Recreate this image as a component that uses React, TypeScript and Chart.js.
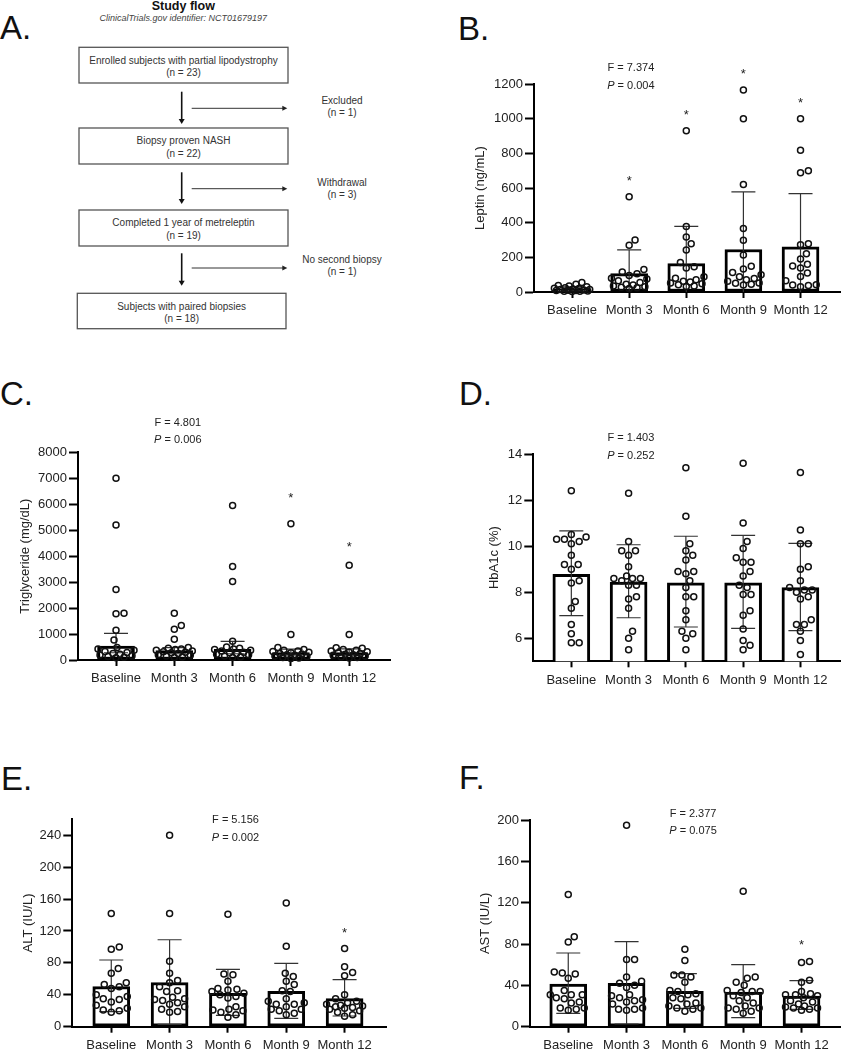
import React, { useEffect, useRef } from "react";
import { Chart, registerables } from "chart.js";
Chart.register(...registerables);

const FONT = "'Liberation Sans', Arial, Helvetica, sans-serif";

const categories = ["Baseline", "Month 3", "Month 6", "Month 9", "Month 12"];

// ---------- B. Leptin ----------
const leptinMean = [17, 106, 164, 245, 260];
const leptinLow = [5, -31, -51, -88, -48];
const leptinHigh = [30, 243, 379, 578, 568];
const leptinStar = [null, 655, 1040, 1275, 1107];
const leptinBaseline = [55, 45, 38, 35, 30, 25, 22, 20, 18, 15, 14, 12, 10, 8, 8, 6, 5, 4, 3];
const leptinM3 = [550, 300, 270, 130, 115, 105, 95, 80, 75, 65, 55, 45, 40, 35, 30, 28, 25, 20];
const leptinM6 = [930, 378, 318, 278, 243, 170, 145, 138, 88, 80, 70, 62, 58, 52, 48, 42, 35, 32];
const leptinM9 = [1165, 1000, 620, 366, 298, 214, 148, 133, 112, 100, 88, 78, 70, 62, 52, 50, 45, 40];
const leptinM12 = [1000, 818, 699, 688, 278, 272, 221, 191, 160, 150, 139, 110, 90, 65, 42, 40, 38, 30];
const leptinTicks = [0, 200, 400, 600, 800, 1000, 1200];

// ---------- C. Triglyceride ----------
const tgMean = [540, 360, 410, 282, 282];
const tgLow = [280, 240, 240, 200, 190];
const tgHigh = [1027, 480, 720, 420, 430];
const tgStar = [null, null, null, 6356, 4481];
const tgBaseline = [7000, 5200, 2720, 1800, 1780, 1150, 770, 480, 420, 380, 330, 290, 250, 220, 190, 160, 130, 110, 90];
const tgM3 = [1800, 1330, 1180, 800, 480, 450, 420, 400, 380, 350, 320, 300, 280, 250, 200, 180, 150, 120, 100];
const tgM6 = [5950, 3600, 3020, 720, 500, 450, 420, 400, 380, 350, 300, 280, 250, 220, 200, 150, 120, 100];
const tgM9 = [5250, 980, 480, 400, 380, 350, 330, 300, 280, 250, 230, 200, 180, 150, 130, 100, 80, 60];
const tgM12 = [3650, 980, 470, 450, 400, 380, 350, 320, 300, 280, 250, 220, 200, 180, 150, 120, 100, 80];
const tgTicks = [0, 1000, 2000, 3000, 4000, 5000, 6000, 7000, 8000];

// ---------- D. HbA1c ----------
const a1cMean = [8.78, 8.44, 8.41, 8.41, 8.2];
const a1cLow = [6.98, 6.89, 6.49, 6.43, 6.33];
const a1cHigh = [10.66, 10.06, 10.43, 10.47, 10.12];
const a1cStar = [null, null, null, null, null];
const a1cBaseline = [12.4, 10.5, 10.4, 10.3, 10.3, 10.2, 10.1, 9.6, 9.2, 9.2, 9.0, 8.5, 8.4, 7.6, 7.3, 6.6, 6.2, 5.8, 5.8];
const a1cM3 = [12.3, 10.2, 9.8, 9.8, 9.6, 9.1, 8.7, 8.6, 8.6, 8.6, 8.5, 8.3, 8.3, 7.8, 7.7, 7.3, 6.3, 6.0, 5.5];
const a1cM6 = [13.4, 11.3, 10.1, 9.8, 9.6, 9.4, 8.9, 8.9, 8.8, 8.5, 8.2, 7.8, 7.8, 7.2, 6.8, 6.3, 6.2, 6.0, 5.5];
const a1cM9 = [13.6, 11.0, 10.2, 9.9, 9.5, 9.3, 9.3, 8.9, 8.7, 8.3, 8.2, 7.9, 7.9, 7.2, 7.0, 6.4, 5.9, 5.7, 5.5];
const a1cM12 = [13.2, 10.7, 10.1, 10.1, 9.1, 9.0, 8.5, 8.2, 8.1, 8.1, 8.0, 7.8, 7.7, 6.8, 6.6, 6.6, 6.3, 5.9, 5.3];
const a1cTicks = [6, 8, 10, 12, 14];

// ---------- E. ALT ----------
const altMean = [50.2, 55.2, 41.8, 44.3, 35.1];
const altLow = [18.8, 2.9, 14.2, 10.5, 13.4];
const altHigh = [83.6, 109, 71.9, 79.4, 58.9];
const altStar = [null, null, null, null, 121];
const altBaseline = [142, 100, 97, 73, 67, 55, 53, 50, 48, 40, 38, 35, 34, 31, 27, 23, 21, 20, 18];
const altM3 = [240, 142, 82, 67, 58, 55, 50, 45, 44, 37, 35, 34, 33, 30, 28, 25, 22, 19, 18];
const altM6 = [141, 66, 65, 57, 48, 47, 46, 44, 42, 40, 38, 36, 25, 22, 21, 20, 18, 15, 12];
const altM9 = [155, 101, 67, 63, 57, 53, 45, 44, 35, 32, 30, 28, 28, 25, 22, 22, 20, 17, 15];
const altM12 = [98, 75, 68, 64, 40, 35, 32, 30, 28, 27, 26, 25, 24, 23, 22, 20, 18, 15, 13];
const altTicks = [0, 40, 80, 120, 160, 200, 240];

// ---------- F. AST ----------
const astMean = [41.3, 41.9, 34.2, 33.5, 29.7];
const astLow = [12.9, 2.6, 17.7, 8.7, 16.8];
const astHigh = [71.3, 82.3, 51.3, 60.0, 44.5];
const astStar = [null, null, null, null, 82];
const astBaseline = [128, 87, 82, 53, 52, 51, 47, 35, 31, 31, 31, 28, 27, 24, 23, 18, 18, 17, 16];
const astM3 = [195, 65, 65, 48, 44, 42, 40, 38, 31, 30, 28, 26, 25, 24, 22, 18, 17, 17, 16];
const astM6 = [75, 64, 50, 50, 48, 43, 35, 34, 32, 31, 28, 27, 23, 22, 20, 18, 18, 17, 15];
const astM9 = [131, 48, 47, 43, 40, 35, 34, 34, 33, 30, 28, 25, 23, 20, 18, 18, 17, 15, 13];
const astM12 = [63, 62, 45, 43, 34, 32, 31, 31, 30, 28, 25, 24, 22, 20, 19, 18, 18, 17, 16];
const astTicks = [0, 40, 80, 120, 160, 200];

type Spec = {
  id: string;
  box: { x: number; y: number; w: number; h: number };
  area: { l: number; t: number; r: number; b: number };
  titleX: number;
  yTitle: string;
  yMin: number;
  yMax: number;
  yTicks: number[];
  xMin: number;
  xMax: number;
  means: number[];
  low: number[];
  high: number[];
  groups: number[][];
  stars: (number | null)[];
  stat: { f: string; p: string; x: number; yF: number; yP: number };
};

const specs: Spec[] = [
  {
    id: "B",
    box: { x: 440, y: 50, w: 406, h: 280 },
    area: { l: 534, t: 84, r: 846, b: 292 },
    titleX: 480.5,
    yTitle: "Leptin (ng/mL)",
    yMin: 0, yMax: 1200, yTicks: leptinTicks,
    xMin: -0.666, xMax: 4.7,
    means: leptinMean, low: leptinLow, high: leptinHigh,
    groups: [leptinBaseline, leptinM3, leptinM6, leptinM9, leptinM12],
    stars: leptinStar,
    stat: { f: "F = 7.374", p: "0.004", x: 1.03, yF: 1296, yP: 1194 },
  },
  {
    id: "C",
    box: { x: 10, y: 410, w: 390, h: 290 },
    area: { l: 78, t: 452.3, r: 390, b: 660 },
    titleX: 25.7,
    yTitle: "Triglyceride (mg/dL)",
    yMin: 0, yMax: 8000, yTicks: tgTicks,
    xMin: -0.652, xMax: 4.7,
    means: tgMean, low: tgLow, high: tgHigh,
    groups: [tgBaseline, tgM3, tgM6, tgM9, tgM12],
    stars: tgStar,
    stat: { f: "F = 4.801", p: "0.006", x: 1.06, yF: 9156, yP: 8501 },
  },
  {
    id: "D",
    box: { x: 440, y: 410, w: 406, h: 290 },
    area: { l: 533.3, t: 454, r: 846, b: 661.3 },
    titleX: 494.7,
    yTitle: "HbA1c (%)",
    yMin: 5, yMax: 14, yTicks: a1cTicks,
    xMin: -0.664, xMax: 4.7,
    means: a1cMean, low: a1cLow, high: a1cHigh,
    groups: [a1cBaseline, a1cM3, a1cM6, a1cM9, a1cM12],
    stars: a1cStar,
    stat: { f: "F = 1.403", p: "0.252", x: 1.04, yF: 14.75, yP: 13.97 },
  },
  {
    id: "E",
    box: { x: 5, y: 795, w: 395, h: 255 },
    area: { l: 72.3, t: 819.3, r: 386, b: 1026.7 },
    titleX: 28,
    yTitle: "ALT (IU/L)",
    yMin: 0, yMax: 260, yTicks: altTicks,
    xMin: -0.668, xMax: 4.71,
    means: altMean, low: altLow, high: altHigh,
    groups: [altBaseline, altM3, altM6, altM9, altM12],
    stars: altStar,
    stat: { f: "F = 5.156", p: "0.002", x: 2.13, yF: 260, yP: 238 },
  },
  {
    id: "F",
    box: { x: 440, y: 795, w: 406, h: 255 },
    area: { l: 530, t: 820, r: 840, b: 1026.7 },
    titleX: 485,
    yTitle: "AST (IU/L)",
    yMin: 0, yMax: 200, yTicks: astTicks,
    xMin: -0.656, xMax: 4.66,
    means: astMean, low: astLow, high: astHigh,
    groups: [astBaseline, astM3, astM6, astM9, astM12],
    stars: astStar,
    stat: { f: "F = 2.377", p: "0.075", x: 2.14, yF: 207, yP: 190 },
  },
];

function swarm(chart: any, groups: number[][]) {
  const xs = chart.scales.x;
  const ys = chart.scales.y;
  const pxPerCat = xs.getPixelForValue(1) - xs.getPixelForValue(0);
  const D = 7.8;
  const maxSpread = 18;
  const cands: number[] = [0];
  for (let k = 1; k <= maxSpread; k++) cands.push(k, -k);
  const out: { x: number; y: number }[] = [];
  groups.forEach((vals, gi) => {
    const placed: { x: number; y: number }[] = [];
    const order = vals.map((_, i) => i).sort((a, b) => vals[a] - vals[b]);
    for (const i of order) {
      const py = ys.getPixelForValue(vals[i]);
      let best = 0;
      let bestScore = -1;
      for (const c of cands) {
        let minD = Infinity;
        for (const p of placed) {
          const d = Math.hypot(p.x - c, p.y - py);
          if (d < minD) minD = d;
        }
        if (minD >= D) {
          best = c;
          bestScore = Infinity;
          break;
        }
        if (minD > bestScore + 0.01) {
          bestScore = minD;
          best = c;
        }
      }
      placed.push({ x: best, y: py });
      out.push({ x: gi + best / pxPerCat, y: vals[i] });
    }
  });
  return out;
}

function BarPanel({ spec }: { spec: Spec }) {
  const ref = useRef<HTMLCanvasElement>(null);
  useEffect(() => {
    const canvas = ref.current!;
    const { box, area } = spec;
    const titleSize = 13;
    const titlePad = spec.titleX - box.x - (titleSize * 1.2) / 2;
    const extras = {
      id: "extras" + spec.id,
      afterDatasetDraw(c: any, args: any) {
        if (args.index !== 0) return;
        const { ctx, chartArea: ca } = c;
        const xs = c.scales.x;
        const ys = c.scales.y;
        ctx.save();
        ctx.beginPath();
        ctx.rect(ca.left, ca.top, ca.right - ca.left, ca.bottom - ca.top);
        ctx.clip();
        ctx.strokeStyle = "#333";
        ctx.lineWidth = 1.2;
        spec.means.forEach((_, i) => {
          const xp = xs.getPixelForValue(i);
          const yh = ys.getPixelForValue(spec.high[i]);
          const yl = ys.getPixelForValue(spec.low[i]);
          ctx.beginPath();
          ctx.moveTo(xp, yl);
          ctx.lineTo(xp, yh);
          ctx.moveTo(xp - 12, yh);
          ctx.lineTo(xp + 12, yh);
          ctx.moveTo(xp - 12, yl);
          ctx.lineTo(xp + 12, yl);
          ctx.stroke();
        });
        ctx.restore();
      },
      afterDraw(c: any) {
        const { ctx } = c;
        const xs = c.scales.x;
        const ys = c.scales.y;
        ctx.save();
        ctx.fillStyle = "#222";
        ctx.font = `13px ${FONT}`;
        ctx.textAlign = "center";
        ctx.textBaseline = "alphabetic";
        spec.stars.forEach((s, i) => {
          if (s == null) return;
          ctx.fillText("*", xs.getPixelForValue(i), ys.getPixelForValue(s) + 7);
        });
        const sx = xs.getPixelForValue(spec.stat.x);
        ctx.textBaseline = "middle";
        ctx.font = `11px ${FONT}`;
        ctx.fillText(spec.stat.f, sx, ys.getPixelForValue(spec.stat.yF) + 1);
        const rest = " = " + spec.stat.p;
        ctx.font = `italic 11px ${FONT}`;
        const wP = ctx.measureText("P").width;
        ctx.font = `11px ${FONT}`;
        const wR = ctx.measureText(rest).width;
        const x0 = sx - (wP + wR) / 2;
        const yp = ys.getPixelForValue(spec.stat.yP) + 1;
        ctx.textAlign = "left";
        ctx.font = `italic 11px ${FONT}`;
        ctx.fillText("P", x0, yp);
        ctx.font = `11px ${FONT}`;
        ctx.fillText(rest, x0 + wP, yp);
        ctx.restore();
      },
    };
    const chart = new Chart(canvas, {
      type: "bar",
      data: {
        datasets: [
          {
            type: "bar",
            data: spec.means.map((m, i) => ({ x: i, y: m })),
            backgroundColor: "#ffffff",
            borderColor: "#000000",
            borderWidth: 3,
            borderSkipped: false,
            barThickness: 37,
            order: 2,
          } as any,
          {
            type: "scatter",
            data: [],
            pointRadius: 3,
            pointBorderWidth: 1.5,
            pointBorderColor: "#111111",
            pointBackgroundColor: "rgba(0,0,0,0)",
            order: 1,
            clip: false,
          } as any,
        ],
      },
      options: {
        responsive: false,
        animation: false,
        events: [],
        layout: {
          padding: { left: 0, top: area.t - box.y, right: box.x + box.w - area.r, bottom: 0 },
        },
        plugins: { legend: { display: false }, tooltip: { enabled: false } },
        scales: {
          x: {
            type: "linear",
            min: spec.xMin,
            max: spec.xMax,
            offset: false,
            grid: {
              offset: false,
              drawOnChartArea: false,
              drawTicks: true,
              tickLength: 6,
              tickWidth: 2,
              tickColor: "#000",
            },
            border: { display: true, color: "#000", width: 2 },
            ticks: {
              callback: (v: any) => categories[v] ?? "",
              font: { size: 13, family: FONT },
              color: "#222",
              padding: 5,
              maxRotation: 0,
              autoSkip: false,
            },
            afterBuildTicks: (s: any) => {
              s.ticks = categories.map((_, i) => ({ value: i }));
            },
            afterFit: (s: any) => {
              s.height = box.y + box.h - area.b;
            },
          } as any,
          y: {
            type: "linear",
            min: spec.yMin,
            max: spec.yMax,
            grid: {
              drawOnChartArea: false,
              drawTicks: true,
              tickLength: 9,
              tickWidth: 2,
              tickColor: "#000",
            },
            border: { display: true, color: "#000", width: 2 },
            ticks: {
              callback: (v: any) => String(v),
              font: { size: 13, family: FONT },
              color: "#222",
              padding: 2,
            },
            title: {
              display: true,
              text: spec.yTitle,
              font: { size: titleSize, family: FONT },
              color: "#222",
              padding: { top: titlePad, bottom: 0 },
            },
            afterBuildTicks: (s: any) => {
              s.ticks = spec.yTicks.map((v) => ({ value: v }));
            },
            afterFit: (s: any) => {
              s.width = area.l - box.x;
            },
          } as any,
        },
      },
      plugins: [extras],
    });
    (chart.data.datasets[1] as any).data = swarm(chart, spec.groups);
    chart.update("none");
    return () => chart.destroy();
  }, [spec]);
  return (
    <canvas
      ref={ref}
      width={spec.box.w}
      height={spec.box.h}
      style={{ position: "absolute", left: spec.box.x, top: spec.box.y, width: spec.box.w, height: spec.box.h }}
    />
  );
}

function Arrow({ x, y1, y2 }: { x: number; y1: number; y2: number }) {
  return (
    <g>
      <line x1={x} y1={y1} x2={x} y2={y2 - 4} stroke="#111" strokeWidth={1.6} />
      <polygon points={`${x - 3},${y2 - 5} ${x + 3},${y2 - 5} ${x},${y2}`} fill="#111" />
    </g>
  );
}

function HArrow({ x1, x2, y }: { x1: number; x2: number; y: number }) {
  return (
    <g>
      <line x1={x1} y1={y} x2={x2 - 4} y2={y} stroke="#333" strokeWidth={1} />
      <polygon points={`${x2 - 5},${y - 2.5} ${x2 - 5},${y + 2.5} ${x2},${y}`} fill="#222" />
    </g>
  );
}

function FlowBox({ x, y, w, h, lines }: { x: number; y: number; w: number; h: number; lines: string[] }) {
  const cx = x + w / 2;
  return (
    <g>
      <rect x={x} y={y} width={w} height={h} fill="#fff" stroke="#555" strokeWidth={1.3} />
      <text x={cx} y={y + 16.3} textAnchor="middle" fontSize={10} fill="#333" fontFamily={FONT}>
        {lines[0]}
      </text>
      <text x={cx} y={y + 28.6} textAnchor="middle" fontSize={10} fill="#333" fontFamily={FONT}>
        {lines[1]}
      </text>
    </g>
  );
}

function SideText({ y, lines }: { y: number; lines: string[] }) {
  return (
    <g>
      <text x={342} y={y} textAnchor="middle" fontSize={10} fill="#333" fontFamily={FONT}>
        {lines[0]}
      </text>
      <text x={342} y={y + 12.3} textAnchor="middle" fontSize={10} fill="#333" fontFamily={FONT}>
        {lines[1]}
      </text>
    </g>
  );
}

function Overlay() {
  const letter = (t: string, x: number, y: number) => (
    <text x={x} y={y} fontSize={33} fill="#111" fontFamily={FONT}>
      {t}
    </text>
  );
  return (
    <svg width={846} height={1050} style={{ position: "absolute", left: 0, top: 0 }}>
      {letter("A.", 0, 39)}
      {letter("B.", 458, 39.5)}
      {letter("C.", 0, 405)}
      {letter("D.", 459, 405)}
      {letter("E.", 1, 790)}
      {letter("F.", 459, 789)}
      <text x={183.3} y={9.5} textAnchor="middle" fontSize={12.5} fontWeight="bold" fill="#111" fontFamily={FONT}>
        Study flow
      </text>
      <text x={183.3} y={20.5} textAnchor="middle" fontSize={9} fontStyle="italic" fill="#444" fontFamily={FONT}>
        ClinicalTrials.gov identifier: NCT01679197
      </text>
      <FlowBox x={79} y={47.3} w={209} h={35.7} lines={["Enrolled subjects with partial lipodystrophy", "(n = 23)"]} />
      <FlowBox x={79} y={128} w={209} h={36} lines={["Biopsy proven NASH", "(n = 22)"]} />
      <FlowBox x={79} y={210} w={209} h={36} lines={["Completed 1 year of metreleptin", "(n = 19)"]} />
      <FlowBox x={77.3} y={293.3} w={208.7} h={35.4} lines={["Subjects with paired biopsies", "(n = 18)"]} />
      <Arrow x={181.7} y1={91.7} y2={124} />
      <Arrow x={181.7} y1={172.3} y2={204} />
      <Arrow x={181.7} y1={253.3} y2={285.7} />
      <HArrow x1={191.7} x2={287.3} y={108.3} />
      <HArrow x1={191.7} x2={287.3} y={188.7} />
      <HArrow x1={191.7} x2={287.3} y={268} />
      <SideText y={103.6} lines={["Excluded", "(n = 1)"]} />
      <SideText y={185.6} lines={["Withdrawal", "(n = 3)"]} />
      <SideText y={262.9} lines={["No second biopsy", "(n = 1)"]} />
    </svg>
  );
}

export default function App() {
  return (
    <div style={{ position: "absolute", left: 0, top: 0, width: 846, height: 1050, background: "#fff", overflow: "hidden" }}>
      <Overlay />
      {specs.map((s) => (
        <BarPanel key={s.id} spec={s} />
      ))}
    </div>
  );
}
